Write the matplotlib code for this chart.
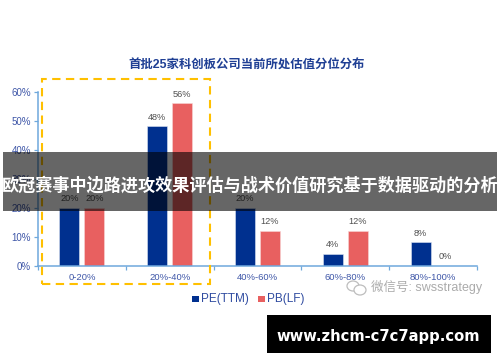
import matplotlib
matplotlib.use("Agg")
import matplotlib.pyplot as plt
from matplotlib.patches import Rectangle, Ellipse

plt.rcParams['font.family'] = ['Liberation Sans', 'Noto Sans CJK SC', 'DejaVu Sans']

categories = ['0-20%', '20%-40%', '40%-60%', '60%-80%', '80%-100%']
pe_ttm = [20, 48, 20, 4, 8]
pb_lf = [20, 56, 12, 12, 0]
y_ticks = [0, 10, 20, 30, 40, 50, 60]
title = '首批25家科创板公司当前所处估值分位分布'
banner = '欧冠赛事中边路进攻效果评估与战术价值研究基于数据驱动的分析'
site = 'www.zhcm-c7c7app.com'
watermark = '微信号: swsstrategy'

W, H = 500, 362
BLUE = '#00308F'
RED = '#E86060'
AXIS = '#6FA8DC'
TICK = '#3F57A8'

fig = plt.figure(figsize=(W / 100, H / 100), dpi=100, facecolor='white')
x0, x1, y0, y1 = 38.0, 477.0, 265.5, 91.7
ax = fig.add_axes([x0 / W, 1 - y0 / H, (x1 - x0) / W, (y0 - y1) / H])
ax.set_xlim(0, 5)
ax.set_ylim(0, 60)
ax.patch.set_alpha(0)

w = 0.228
off = 0.143
for i, (a, b) in enumerate(zip(pe_ttm, pb_lf)):
    ax.bar(i + 0.5 - off, a, w, color=BLUE, edgecolor='#DCE3F2', linewidth=0.4)
    if b > 0:
        ax.bar(i + 0.5 + off, b, w, color=RED, edgecolor='#F8D5D5', linewidth=0.4)
    ax.text(i + 0.5 - off, a + 1.6, f'{a}%', ha='center', va='bottom', fontsize=6.6, color='#505050')
    ax.text(i + 0.5 + off, b + 1.6, f'{b}%', ha='center', va='bottom', fontsize=6.6, color='#505050')

for s in ('top', 'right'):
    ax.spines[s].set_visible(False)
for s in ('left', 'bottom'):
    ax.spines[s].set_color(AXIS)
    ax.spines[s].set_linewidth(1.1)
ax.set_yticks(y_ticks)
ax.set_yticklabels([f'{t}%' for t in y_ticks], fontsize=7, color=TICK)
ax.tick_params(axis='y', length=3, width=0.9, color=AXIS, pad=2)
ax.set_xticks(range(6))
ax.set_xticklabels([])
ax.tick_params(axis='x', length=3, width=0.9, color=AXIS)
for i, c in enumerate(categories):
    ax.text(i + 0.5, -2.6, c, ha='center', va='top', fontsize=6.8, color=TICK)

def px(x, y):
    return x / W, 1 - y / H

# dashed highlight box
fig.add_artist(Rectangle(px(42, 284), 168 / W, 205 / H, transform=fig.transFigure, fill=False,
                         edgecolor='#FFC000', linewidth=1.5, linestyle=(0, (4, 2.6)), zorder=5))

fig.text(*px(246.5, 66), title, ha='center', va='center', fontsize=8.9, fontweight='bold', color='#1F3F94')

# legend
fig.add_artist(Rectangle(px(192, 302), 7 / W, 6.5 / H, transform=fig.transFigure, color=BLUE, lw=0))
fig.text(*px(201.5, 299), 'PE(TTM)', ha='left', va='center', fontsize=8.5, color='#2F4BA0')
fig.add_artist(Rectangle(px(258, 302), 7 / W, 6.5 / H, transform=fig.transFigure, color=RED, lw=0))
fig.text(*px(267.5, 299), 'PB(LF)', ha='left', va='center', fontsize=8.5, color='#2F4BA0')

# watermark
for cx, cy, ew, eh in [(353, 286, 12, 10), (360, 290, 12, 10)]:
    fig.add_artist(Ellipse(px(cx, cy), ew / W, eh / H, transform=fig.transFigure,
                           facecolor='white', edgecolor='#BDBDBD', linewidth=0.9, zorder=6))
fig.text(*px(371, 287.5), watermark, ha='left', va='center', fontsize=9, color='#ABABAB', zorder=6)

# translucent banner
fig.add_artist(Rectangle(px(3, 211), 494 / W, 59 / H, transform=fig.transFigure,
                         facecolor='black', alpha=0.6, lw=0, zorder=8))
fig.text(*px(250, 184.5), banner, ha='center', va='center', fontsize=12.3, fontweight='bold',
         color='white', zorder=9)

# site box
fig.add_artist(Rectangle(px(267, 353), 224 / W, 38 / H, transform=fig.transFigure,
                         facecolor='black', lw=0, zorder=8))
fig.text(*px(378.5, 336), site, ha='center', va='center', fontsize=10.6, fontweight='bold',
         color='white', family=['DejaVu Sans'], zorder=9)

fig.savefig('out.png', dpi=100, facecolor='white')
